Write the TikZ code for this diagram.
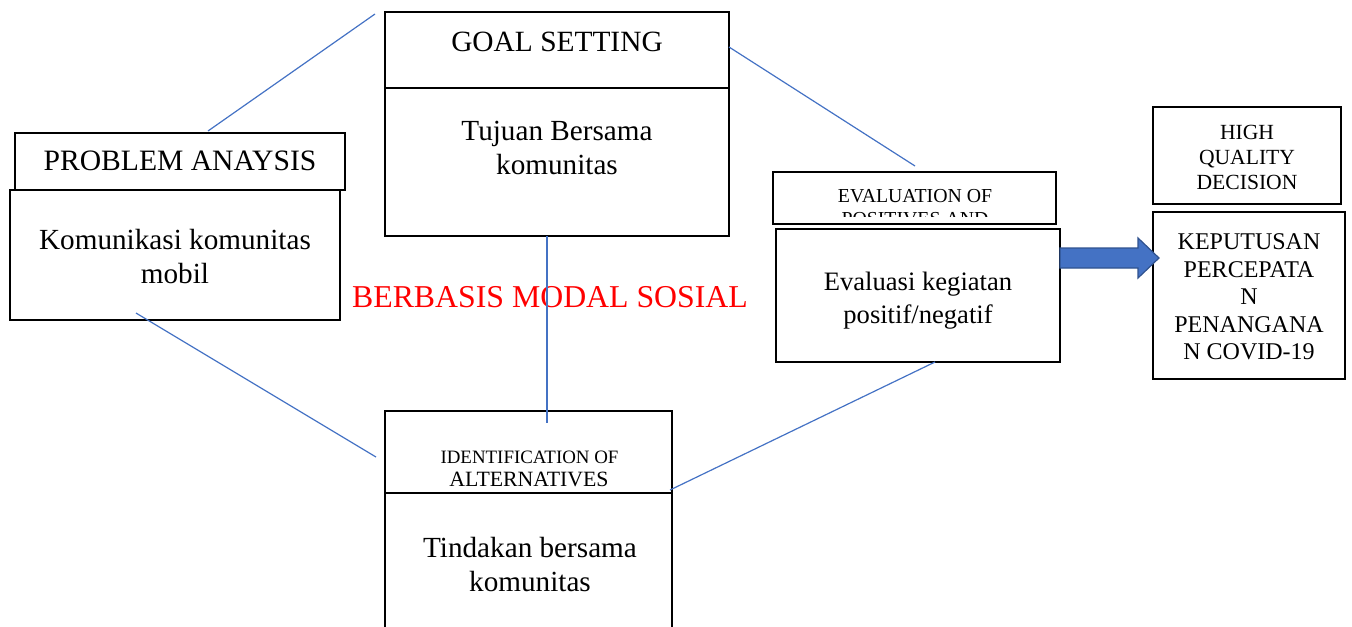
\documentclass[tikz,border=0pt]{standalone}
\usepackage{fontspec}
\setmainfont{Liberation Serif}
\usetikzlibrary{calc}
\definecolor{lineblue}{HTML}{4472C4}
\definecolor{arrowfill}{HTML}{4472C4}
\definecolor{arrowdraw}{HTML}{2F528F}
\begin{document}
\begin{tikzpicture}[x=0.5pt,y=-0.5pt,
  box/.style={draw=black,line width=1.1pt,rectangle,inner sep=0pt},
  txt/.style={align=center,inner sep=0pt,text=black},
  conn/.style={draw=lineblue,line width=0.6pt}]
\useasboundingbox (0,0) rectangle (1352,626);
\clip (0,0) rectangle (1352,626);
% boxes
\node[box,minimum width=172pt,minimum height=38pt] (gsh) at (557,50) {};
\node[box,minimum width=172pt,minimum height=74pt] (gsb) at (557,162) {};
\node[box,minimum width=165pt,minimum height=28.5pt] (pah) at (180,161.5) {};
\node[box,minimum width=165pt,minimum height=65pt] (pab) at (175,255) {};
\node[box,minimum width=143.5pt,minimum height=41pt] (idh) at (528.5,452) {};
\node[box,minimum width=143.5pt,minimum height=75pt] (idb) at (528.5,568) {};
\node[box,minimum width=141.5pt,minimum height=26pt] (evh) at (914.5,198) {};
\node[box,minimum width=142pt,minimum height=66.5pt] (evb) at (918,295.5) {};
\node[box,minimum width=94pt,minimum height=48.5pt] (hq) at (1247,155.5) {};
\node[box,minimum width=96pt,minimum height=83.5pt] (kp) at (1249,295.5) {};
% texts
\node[txt,font=\fontsize{14.7}{17}\selectfont] (gst) at (557,42) {GOAL SETTING};
\node[txt,font=\fontsize{14.6}{17}\selectfont] (gsbt) at (557,148) {Tujuan Bersama\\komunitas};
\node[txt,font=\fontsize{14.8}{17}\selectfont] (pat) at (180,161) {PROBLEM ANAYSIS};
\node[txt,font=\fontsize{14.6}{17}\selectfont] (pabt) at (175,257) {Komunikasi komunitas\\mobil};
\node[txt,text=red,font=\fontsize{15.9}{18}\selectfont] (bms) at (550,297) {BERBASIS MODAL SOSIAL};
\node[txt,font=\fontsize{9.45}{11}\selectfont] (idt1) at (529.5,457) {IDENTIFICATION OF};
\node[txt,font=\fontsize{10.9}{12}\selectfont] (idt2) at (529,479) {ALTERNATIVES};
\node[txt,font=\fontsize{14.6}{17}\selectfont] (idbt) at (530,565) {Tindakan bersama\\komunitas};
\node[txt,font=\fontsize{9.9}{11}\selectfont] (evt1) at (915,196) {EVALUATION OF};
\begin{scope}
  \clip (780,205) rectangle (1050,216);
  \node[txt,font=\fontsize{9.9}{11}\selectfont] (evt2) at (915,219) {POSITIVES AND};
\end{scope}
\node[txt,font=\fontsize{13.3}{16.5}\selectfont] (evbt) at (918,301) {Evaluasi kegiatan\\positif/negatif};
\node[txt,font=\fontsize{10.8}{12.5}\selectfont] (hqt) at (1247,157) {HIGH\\QUALITY\\DECISION};
\node[txt,font=\fontsize{12}{13.75}\selectfont] (kpt) at (1249,297) {KEPUTUSAN\\PERCEPATA\\N\\PENANGANA\\N COVID-19};
% connectors
\coordinate (c1) at (208,131);
\coordinate (c2) at (375,14);
\coordinate (c3) at (729,47);
\coordinate (c4) at (915,166);
\coordinate (c5) at (547,236);
\coordinate (c6) at (547,423);
\coordinate (c7) at (136,313);
\coordinate (c8) at (376,457);
\coordinate (c9) at (935,362);
\coordinate (c10) at (670,490);
\draw[conn] (c1) -- (c2);
\draw[conn] (c3) -- (c4);
\draw[conn] (c5) -- (c6);
\draw[conn] (c7) -- (c8);
\draw[conn] (c9) -- (c10);
% block arrow
\coordinate (as) at (1060,258);
\coordinate (at) at (1159,258);
\draw[fill=arrowfill,draw=arrowdraw,line width=0.6pt]
  ($(as)+(0,-10)$) -- (1138,248) -- (1138,238) -- (at) -- (1138,278) -- (1138,268) -- ($(as)+(0,10)$) -- cycle;
\end{tikzpicture}
\end{document}
